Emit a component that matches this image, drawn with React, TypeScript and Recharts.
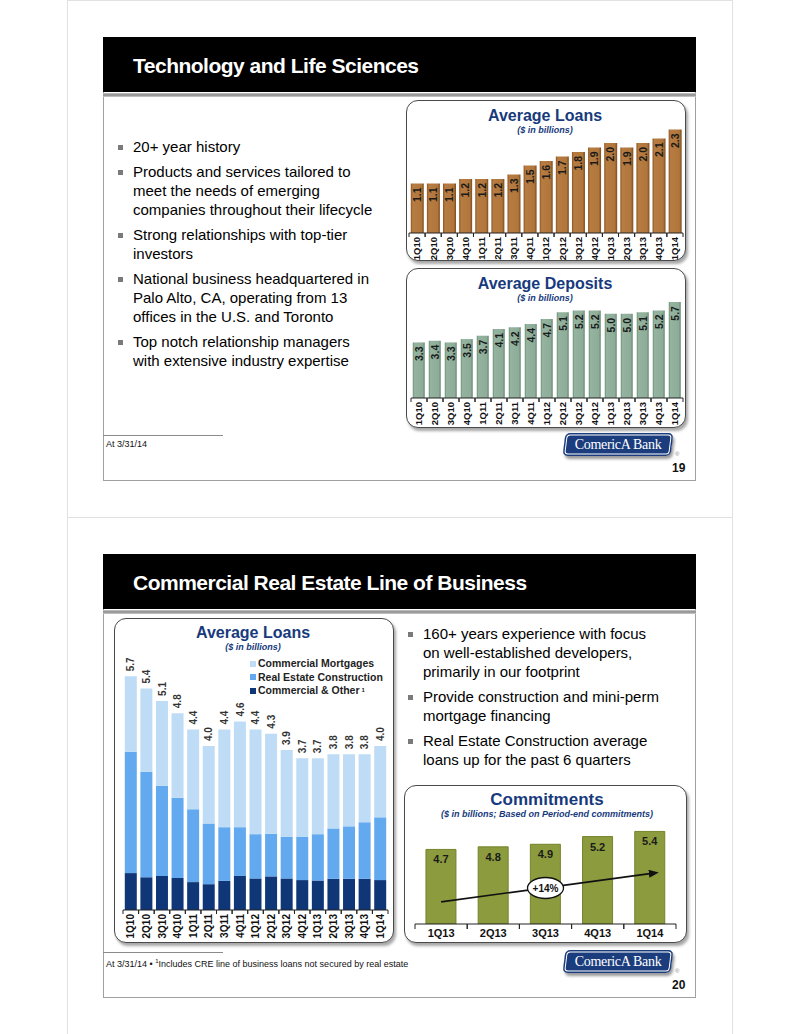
import React from 'react';
import { BarChart, Bar, XAxis, YAxis, LabelList, ReferenceLine, ReferenceDot, Legend } from 'recharts';

// ---------- DATA ----------
const quarters = ['1Q10','2Q10','3Q10','4Q10','1Q11','2Q11','3Q11','4Q11','1Q12','2Q12','3Q12','4Q12','1Q13','2Q13','3Q13','4Q13','1Q14'];
const techLoans = [1.1,1.1,1.1,1.2,1.2,1.2,1.3,1.5,1.6,1.7,1.8,1.9,2.0,1.9,2.0,2.1,2.3];
const techDeposits = [3.3,3.4,3.3,3.5,3.7,4.1,4.2,4.4,4.7,5.1,5.2,5.2,5.0,5.0,5.1,5.2,5.7];

const creTotals = [5.7,5.4,5.1,4.8,4.4,4.0,4.4,4.6,4.4,4.3,3.9,3.7,3.7,3.8,3.8,3.8,4.0];
const creCommercialOther = [0.90,0.80,0.83,0.78,0.68,0.63,0.71,0.83,0.77,0.82,0.77,0.73,0.72,0.76,0.76,0.76,0.73];
const creConstruction = [2.96,2.57,2.20,1.96,1.78,1.48,1.31,1.19,1.08,1.04,1.02,1.06,1.13,1.23,1.28,1.38,1.53];
const creMortgages = [1.84,2.03,2.07,2.06,1.94,1.89,2.38,2.58,2.55,2.44,2.11,1.91,1.85,1.81,1.76,1.66,1.74];
const creLegendOrder = ['mortgages', 'construction', 'other'];

const commitQuarters = ['1Q13','2Q13','3Q13','4Q13','1Q14'];
const commitments = [4.7,4.8,4.9,5.2,5.4];
const commitGrowthLabel = '+14%';

const techBullets = [
  ['20+ year history'],
  ['Products and services tailored to', 'meet the needs of emerging', 'companies throughout their lifecycle'],
  ['Strong relationships with top-tier', 'investors'],
  ['National business headquartered in', 'Palo Alto, CA, operating from 13', 'offices in the U.S. and Toronto'],
  ['Top notch relationship managers', 'with extensive industry expertise'],
];
const creBullets = [
  ['160+ years experience with focus', 'on well-established developers,', 'primarily in our footprint'],
  ['Provide construction and mini-perm', 'mortgage financing'],
  ['Real Estate Construction average', 'loans up for the past 6 quarters'],
];

// ---------- DERIVED TABLES ----------
const loanData = quarters.map((q, i) => ({ q, v: techLoans[i] }));
const depositData = quarters.map((q, i) => ({ q, v: techDeposits[i] }));
const creData = quarters.map((q, i) => ({
  q,
  other: creCommercialOther[i],
  construction: creConstruction[i],
  mortgages: creMortgages[i],
  total: creTotals[i],
}));
const commitData = commitQuarters.map((q, i) => ({ q, v: commitments[i] }));

// ---------- STYLE ----------
const FONT = 'Arial, "Liberation Sans", Helvetica, sans-serif';
const NAVY = '#173A7C';

const RotTick = (props: any) => {
  const { x, y, payload, fs } = props;
  const half = payload && payload.offset ? payload.offset : 8;
  return (
    <g>
      <line x1={x - half} y1={y} x2={x - half} y2={y + 4} stroke="#222" strokeWidth={1} />
      <line x1={x + half} y1={y} x2={x + half} y2={y + 4} stroke="#222" strokeWidth={1} />
      <text
        transform={`translate(${x + fs * 0.36},${y + 4}) rotate(-90)`}
        textAnchor="end"
        fontSize={fs}
        fontWeight="bold"
        fontFamily={FONT}
        fill="#111"
      >
        {payload.value}
      </text>
    </g>
  );
};

const FlatTick = (props: any) => {
  const { x, y, payload } = props;
  const half = payload && payload.offset ? payload.offset : 26;
  return (
    <g>
      <line x1={x - half} y1={y} x2={x - half} y2={y + 5} stroke="#222" strokeWidth={1} />
      <line x1={x + half} y1={y} x2={x + half} y2={y + 5} stroke="#222" strokeWidth={1} />
      <text x={x} y={y + 13} textAnchor="middle" fontSize={11} fontWeight="bold" fontFamily={FONT} fill="#111">
        {payload.value}
      </text>
    </g>
  );
};

const insideRotLabel = (fs: number) => (p: any) => {
  const x = Number(p.x), y = Number(p.y), w = Number(p.width);
  const cx = x + w / 2;
  return (
    <text
      transform={`translate(${cx + fs * 0.36},${y + 4}) rotate(-90)`}
      textAnchor="end"
      fontSize={fs}
      fontWeight="bold"
      fontFamily={FONT}
      fill="#1a1a1a"
    >
      {Number(p.value).toFixed(1)}
    </text>
  );
};

const aboveRotLabel = (p: any) => {
  const x = Number(p.x), y = Number(p.y), w = Number(p.width);
  const cx = x + w / 2;
  const fs = 10;
  return (
    <text
      transform={`translate(${cx + fs * 0.36},${y - 5}) rotate(-90)`}
      textAnchor="start"
      fontSize={fs}
      fontWeight="bold"
      fontFamily={FONT}
      fill="#333"
    >
      {Number(p.value).toFixed(1)}
    </text>
  );
};

const insideTopLabel = (p: any) => {
  const x = Number(p.x), y = Number(p.y), w = Number(p.width);
  return (
    <text x={x + w / 2} y={y + 14} textAnchor="middle" fontSize={11} fontWeight="bold" fontFamily={FONT} fill="#1a1a1a">
      {Number(p.value).toFixed(1)}
    </text>
  );
};

const ChartBox = ({ left, top, width, height }: any) => (
  <div
    style={{
      position: 'absolute', left, top, width, height, boxSizing: 'border-box',
      border: '1.5px solid #4a4a4a', borderRadius: 12, background: '#fff',
      boxShadow: '2px 3px 3px rgba(0,0,0,0.35)',
    }}
  />
);

const ChartTitle = ({ cx, y, title, sub, size = 16 }: any) => (
  <>
    <div style={{ position: 'absolute', left: cx - 150, width: 300, top: y - size * 0.6, textAlign: 'center', fontFamily: FONT, fontWeight: 'bold', fontSize: size, lineHeight: `${size * 1.2}px`, color: NAVY }}>{title}</div>
    <div style={{ position: 'absolute', left: cx - 150, width: 300, top: y + size * 0.55, textAlign: 'center', fontFamily: FONT, fontWeight: 'bold', fontStyle: 'italic', fontSize: 9, lineHeight: '11px', color: NAVY }}>{sub}</div>
  </>
);

const Bullets = ({ left, top, items, fs = 15, lh = 19, gap = 6 }: any) => (
  <div style={{ position: 'absolute', left, top, fontFamily: FONT, fontSize: fs, lineHeight: `${lh}px`, color: '#000' }}>
    {items.map((lines: string[], i: number) => (
      <div key={i} style={{ position: 'relative', paddingLeft: 15, marginBottom: gap, whiteSpace: 'nowrap' }}>
        <div style={{ position: 'absolute', left: 0, top: lh / 2 - 2, width: 5, height: 5, background: '#7a7a7a' }} />
        {lines.map((l, j) => <div key={j}>{l}</div>)}
      </div>
    ))}
  </div>
);

const Logo = ({ left, top }: any) => (
  <div style={{ position: 'absolute', left, top, width: 108, height: 23 }}>
    <div style={{
      position: 'absolute', left: 0, top: 0, width: 108, height: 23, background: '#1B3D7D', borderRadius: 5,
      transform: 'skewX(-7deg)',
      boxShadow: 'inset 0 0 0 1.5px #1B3D7D, inset 0 0 0 2.5px #ffffff, 2px 3px 3px rgba(0,0,0,0.4)',
    }} />
    <div style={{ position: 'absolute', left: 0, top: 3, width: 108, textAlign: 'center', color: '#fff', fontFamily: '"Liberation Serif", "DejaVu Serif", serif', fontSize: 14, lineHeight: '17px', letterSpacing: -0.3, whiteSpace: 'nowrap' }}>
      ComericA Bank
    </div>
    <div style={{ position: 'absolute', left: 111, top: 18, fontSize: 6, color: '#888', fontFamily: FONT }}>®</div>
  </div>
);

const Slide = ({ top, title, page, footnote }: any) => (
  <>
    <div style={{ position: 'absolute', left: 67, top: top - 37, width: 666, height: 518, boxSizing: 'border-box', border: '1px solid #e2e2e2' }} />
    <div style={{ position: 'absolute', left: 103, top, width: 593, height: 444, boxSizing: 'border-box', border: '1px solid #a0a0a0', background: '#fff' }} />
    <div style={{ position: 'absolute', left: 103, top, width: 593, height: 55, background: '#000' }} />
    <div style={{ position: 'absolute', left: 103, top: top + 56, width: 593, height: 4, background: 'linear-gradient(#c8c8c8,#8a8a8a,#d0d0d0)' }} />
    <div style={{ position: 'absolute', left: 133, top: top + 18, color: '#fff', fontFamily: FONT, fontWeight: 'bold', fontSize: 21, lineHeight: '21px', letterSpacing: -0.5, whiteSpace: 'nowrap' }}>{title}</div>
    <div style={{ position: 'absolute', left: 103, top: top + 398, width: 120, height: 1, background: '#8a8a8a' }} />
    <div style={{ position: 'absolute', left: 106, top: top + 402, fontFamily: FONT, fontSize: 9, lineHeight: '11px', color: '#111', whiteSpace: 'nowrap' }}>{footnote}</div>
    <Logo left={564} top={top + 396} />
    <div style={{ position: 'absolute', left: 672, top: top + 424, fontFamily: FONT, fontWeight: 'bold', fontSize: 12, lineHeight: '14px', color: '#111' }}>{page}</div>
  </>
);

const CreLegend = (lp: any) => {
  const items = [...(lp.payload || [])].sort(
    (a: any, b: any) => creLegendOrder.indexOf(a.dataKey) - creLegendOrder.indexOf(b.dataKey)
  );
  return (
    <div style={{ fontFamily: FONT, fontWeight: 'bold', fontSize: 10.5, lineHeight: '13.5px', color: '#222' }}>
      {items.map((it: any, i: number) => (
        <div key={i} style={{ display: 'flex', alignItems: 'center', whiteSpace: 'nowrap' }}>
          <span style={{ display: 'inline-block', width: 6, height: 6, background: it.color, marginRight: 2 }} />
          <span>{it.value}</span>
          {it.dataKey === 'other' ? <sup style={{ fontSize: 6, marginLeft: 2, alignSelf: 'flex-start' }}>1</sup> : null}
        </div>
      ))}
    </div>
  );
};

export default function App() {
  const s2 = 517;
  return (
    <div style={{ position: 'absolute', left: 0, top: 0, width: 799, height: 1034, background: '#fff', overflow: 'hidden', fontFamily: FONT }}>
      <svg width={0} height={0} style={{ position: 'absolute' }}>
        <defs>
          <linearGradient id="gLoan" x1="0" y1="0" x2="1" y2="0">
            <stop offset="0%" stopColor="#8C5523" />
            <stop offset="15%" stopColor="#B67C42" />
            <stop offset="82%" stopColor="#B0763B" />
            <stop offset="100%" stopColor="#7E4B1C" />
          </linearGradient>
          <linearGradient id="gDep" x1="0" y1="0" x2="1" y2="0">
            <stop offset="0%" stopColor="#6C8E79" />
            <stop offset="15%" stopColor="#94B4A0" />
            <stop offset="82%" stopColor="#8DAD99" />
            <stop offset="100%" stopColor="#67866F" />
          </linearGradient>
          <marker id="arrowHead" markerWidth="10" markerHeight="8" refX="1" refY="4" orient="auto" markerUnits="userSpaceOnUse">
            <path d="M0,0 L10,4 L0,8 Z" fill="#111" />
          </marker>
        </defs>
      </svg>

      {/* ================= SLIDE 19 ================= */}
      <Slide top={37} title="Technology and Life Sciences" page="19" footnote="At 3/31/14" />
      <Bullets left={118} top={137} items={techBullets} />

      <ChartBox left={406} top={100} width={280} height={161} />
      <ChartTitle cx={545} y={116} title="Average Loans" sub="($ in billions)" />
      <div style={{ position: 'absolute', left: 406, top: 100 }}>
        <BarChart width={280} height={160} data={loanData} margin={{ top: 25, right: 3, bottom: 0, left: 3 }} barCategoryGap="11%">
          <XAxis dataKey="q" interval={0} tickLine={false} tickSize={0} tickMargin={0} height={27} axisLine={{ stroke: '#222' }} tick={<RotTick fs={9.5} />} />
          <YAxis hide domain={[0, 2.4]} />
          <Bar dataKey="v" fill="url(#gLoan)" isAnimationActive={false}>
            <LabelList dataKey="v" content={insideRotLabel(10.5)} />
          </Bar>
        </BarChart>
      </div>

      <ChartBox left={406} top={268} width={280} height={160} />
      <ChartTitle cx={545} y={284} title="Average Deposits" sub="($ in billions)" />
      <div style={{ position: 'absolute', left: 406, top: 270 }}>
        <BarChart width={280} height={157} data={depositData} margin={{ top: 27, right: 3, bottom: 0, left: 5 }} barCategoryGap="11%">
          <XAxis dataKey="q" interval={0} tickLine={false} tickSize={0} tickMargin={0} height={29} axisLine={{ stroke: '#222' }} tick={<RotTick fs={9.5} />} />
          <YAxis hide domain={[0, 6]} />
          <Bar dataKey="v" fill="url(#gDep)" isAnimationActive={false}>
            <LabelList dataKey="v" content={insideRotLabel(10.5)} />
          </Bar>
        </BarChart>
      </div>

      {/* ================= SLIDE 20 ================= */}
      <Slide top={37 + s2} title="Commercial Real Estate Line of Business" page="20" footnote={<span>At 3/31/14 • <sup style={{ fontSize: 6 }}>1</sup>Includes CRE line of business loans not secured by real estate</span>} />
      <Bullets left={408} top={624} items={creBullets} />

      <ChartBox left={114} top={618} width={280} height={325} />
      <ChartTitle cx={253} y={633} title="Average Loans" sub="($ in billions)" />
      <div style={{ position: 'absolute', left: 114, top: 618 }}>
        <BarChart width={279} height={324} data={creData} margin={{ top: 5, right: 5, bottom: 0, left: 9 }} barCategoryGap="11.5%">
          <XAxis dataKey="q" interval={0} tickLine={false} tickSize={0} tickMargin={0} height={32} axisLine={{ stroke: '#222' }} tick={<RotTick fs={10} />} />
          <YAxis hide domain={[0, 7]} />
          <Legend
            layout="horizontal"
            verticalAlign="middle"
            align="center"
            wrapperStyle={{ top: 39, left: 136, width: 150 }}
            content={CreLegend}
          />
          <Bar dataKey="other" name="Commercial & Other" stackId="a" fill="#0F3778" isAnimationActive={false} />
          <Bar dataKey="construction" name="Real Estate Construction" stackId="a" fill="#62A9EF" isAnimationActive={false} />
          <Bar dataKey="mortgages" name="Commercial Mortgages" stackId="a" fill="#BEDCF6" isAnimationActive={false}>
            <LabelList dataKey="total" content={aboveRotLabel} />
          </Bar>
        </BarChart>
      </div>

      <ChartBox left={404} top={785} width={283} height={158} />
      <ChartTitle cx={547} y={800} title="Commitments" sub="($ in billions; Based on Period-end commitments)" size={17} />
      <div style={{ position: 'absolute', left: 404, top: 785 }}>
        <BarChart width={282} height={158} data={commitData} margin={{ top: 31, right: 10, bottom: 0, left: 11 }} barCategoryGap="21%">
          <XAxis dataKey="q" interval={0} tickLine={false} tickSize={0} tickMargin={0} height={19} axisLine={{ stroke: '#222' }} tick={<FlatTick />} />
          <YAxis hide domain={[1.8, 6]} allowDataOverflow />
          <Bar dataKey="v" fill="#8C9B3D" stroke="#75832C" strokeWidth={1} isAnimationActive={false}>
            <LabelList dataKey="v" content={insideTopLabel} />
          </Bar>
          <ReferenceLine
            segment={[{ x: '1Q13', y: 2.66 }, { x: '1Q14', y: 3.76 }]}
            ifOverflow="visible"
            shape={(p: any) => (
              <line x1={p.x1} y1={p.y1} x2={p.x2} y2={p.y2} stroke="#111" strokeWidth={1.6} markerEnd="url(#arrowHead)" />
            )}
          />
          <ReferenceDot
            x="3Q13"
            y={3.2}
            ifOverflow="visible"
            shape={(p: any) => (
              <g>
                <ellipse cx={p.cx} cy={p.cy} rx={18} ry={10.5} fill="#fff" stroke="#111" strokeWidth={1.3} />
                <text x={p.cx} y={p.cy + 4} textAnchor="middle" fontSize={10} fontWeight="bold" fontFamily={FONT} fill="#111">{commitGrowthLabel}</text>
              </g>
            )}
          />
        </BarChart>
      </div>
    </div>
  );
}
